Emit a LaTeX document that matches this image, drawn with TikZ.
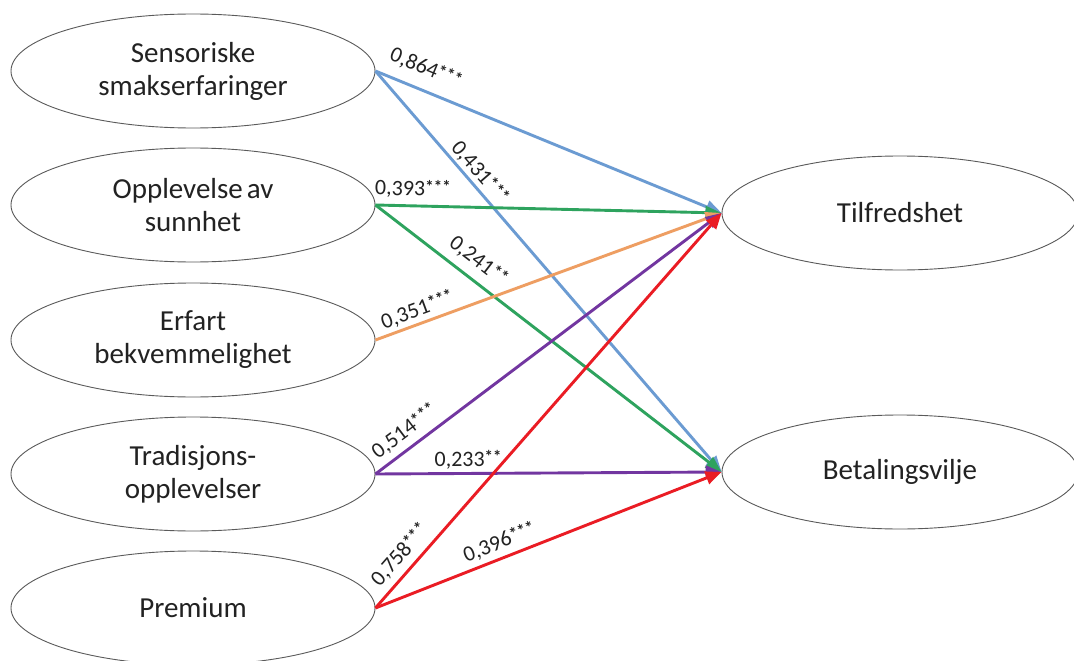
\documentclass[tikz,border=0pt]{standalone}
\usepackage{fontspec}
\setmainfont{Carlito}
\usetikzlibrary{shapes.geometric,arrows.meta}
\definecolor{cblue}{HTML}{6B9BD2}
\definecolor{cgreen}{HTML}{2EA35E}
\definecolor{corange}{HTML}{EE9E62}
\definecolor{cpurple}{HTML}{7236A0}
\definecolor{cred}{HTML}{EA1C24}
\definecolor{cline}{HTML}{5A5A5A}
\definecolor{ctext}{HTML}{222222}
\newcommand\sig[1]{\raisebox{3.5pt}{\fontsize{17}{17}\selectfont\bfseries #1}}
\begin{document}
\begin{tikzpicture}[x=1pt,y=-1pt,
 latent/.style={ellipse,draw=cline,line width=0.9pt,minimum width=364pt,minimum height=114pt,inner sep=0pt,align=center,font=\fontsize{29}{33}\selectfont,text=ctext},
 pathline/.style={line width=2.9pt,-{Triangle[length=16pt,width=13pt]}},
 coef/.style={font=\fontsize{22}{24}\selectfont,text=ctext,inner sep=2pt,sloped}]
\useasboundingbox (0,0) rectangle (1074,661);
\clip (0,0) rectangle (1074,661);
\fill[white] (0,0) rectangle (1074,661);
\node[latent] (s) at (193,71) {Sensoriske\\smakserfaringer};
\node[latent] (o) at (193,205) {Opplevelse\hspace{4pt}av\\sunnhet};
\node[latent] (e) at (193,340) {Erfart\\bekvemmelighet};
\node[latent] (r) at (193,474) {Tradisjons-\\opplevelser};
\node[latent] (p) at (193,608) {Premium};
\node[latent,minimum width=356pt] (t) at (900,213) {Tilfredshet};
\node[latent,minimum width=356pt] (b) at (900,472) {Betalingsvilje};
\draw[pathline,cblue] (s.east) -- node[coef,pos=0.122,above=9pt] {0,864\sig{***}} (t.west);
\draw[pathline,cblue] (s.east) -- node[coef,pos=0.274,above=0pt] {0,431\sig{***}} (b.west);
\draw[pathline,cgreen] (o.east) -- node[coef,pos=0.107,above=4pt] {0,393\sig{***}} (t.west);
\draw[pathline,cgreen] (o.east) -- node[coef,pos=0.265,above=6pt] {0,241\sig{**}} (b.west);
\draw[pathline,corange] (e.east) -- node[coef,pos=0.135,above=1pt] {0,351\sig{***}} (t.west);
\draw[pathline,cpurple] (r.east) -- node[coef,pos=0.113,above=4pt] {0,514\sig{***}} (t.west);
\draw[pathline,cpurple] (r.east) -- node[coef,pos=0.268,above=1pt] {0,233\sig{**}} (b.west);
\draw[pathline,cred] (p.east) -- node[coef,pos=0.107,above=4pt] {0,758\sig{***}} (t.west);
\draw[pathline,cred] (p.east) -- node[coef,pos=0.375,above=3pt] {0,396\sig{***}} (b.west);
\end{tikzpicture}
\end{document}
